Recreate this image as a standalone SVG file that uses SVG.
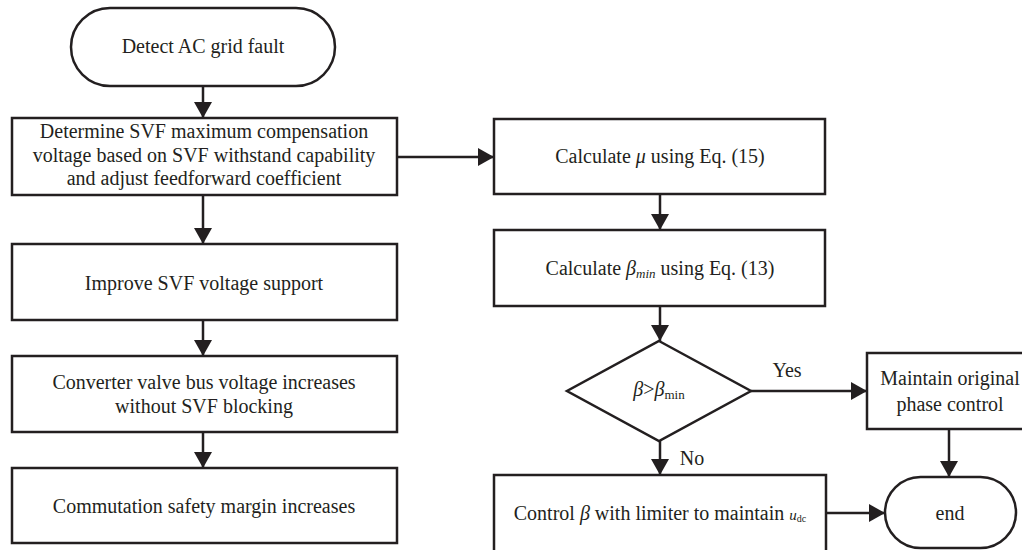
<svg xmlns="http://www.w3.org/2000/svg" width="1022" height="550" viewBox="0 0 1022 550">
<defs>
<style>
.n{fill:#fff;stroke:#231f20;stroke-width:2.5}
.t{font-family:"Liberation Serif","Times New Roman",serif;font-size:20px;fill:#231f20;text-anchor:middle}
.l{fill:none;stroke:#231f20;stroke-width:2.5}
.i{font-style:italic}
</style>
<marker id="ah" markerUnits="userSpaceOnUse" markerWidth="16" markerHeight="18" refX="16" refY="9" orient="auto" viewBox="0 0 16 18">
<path d="M0,0 L16,9 L0,18 z" fill="#231f20"/>
</marker>
</defs>
<rect width="1022" height="550" fill="#fff"/>
<g id="connectors">
<line class="l" x1="203" y1="86" x2="203" y2="118" marker-end="url(#ah)"/>
<line class="l" x1="203" y1="195" x2="203" y2="244" marker-end="url(#ah)"/>
<line class="l" x1="203" y1="320" x2="203" y2="356" marker-end="url(#ah)"/>
<line class="l" x1="203" y1="432" x2="203" y2="468" marker-end="url(#ah)"/>
<line class="l" x1="397" y1="157" x2="494" y2="157" marker-end="url(#ah)"/>
<line class="l" x1="660" y1="194" x2="660" y2="230" marker-end="url(#ah)"/>
<line class="l" x1="660" y1="306" x2="660" y2="341" marker-end="url(#ah)"/>
<line class="l" x1="751" y1="391" x2="867" y2="391" marker-end="url(#ah)"/>
<line class="l" x1="660" y1="441" x2="660" y2="475" marker-end="url(#ah)"/>
<line class="l" x1="949" y1="429" x2="949" y2="477" marker-end="url(#ah)"/>
<line class="l" x1="826" y1="513" x2="885" y2="513" marker-end="url(#ah)"/>
<text class="t" x="787" y="377">Yes</text>
<text class="t" x="692" y="465">No</text>
</g>
<g id="start">
<rect class="n" x="71" y="8" width="264" height="78" rx="39" ry="39"/>
<text class="t" x="203" y="53">Detect AC grid fault</text>
</g>
<g id="determine">
<rect class="n" x="12" y="118" width="385" height="77"/>
<text class="t" x="204" y="138">Determine SVF maximum compensation</text>
<text class="t" x="204" y="162">voltage based on SVF withstand capability</text>
<text class="t" x="204" y="185">and adjust feedforward coefficient</text>
</g>
<g id="improve">
<rect class="n" x="12" y="244" width="385" height="76"/>
<text class="t" x="204" y="290">Improve SVF voltage support</text>
</g>
<g id="converter">
<rect class="n" x="12" y="356" width="385" height="76"/>
<text class="t" x="204" y="389">Converter valve bus voltage increases</text>
<text class="t" x="204" y="413">without SVF blocking</text>
</g>
<g id="commutation">
<rect class="n" x="12" y="468" width="385" height="75"/>
<text class="t" x="204" y="513">Commutation safety margin increases</text>
</g>
<g id="calc-mu">
<rect class="n" x="494" y="119" width="331" height="75"/>
<text class="t" x="660" y="163">Calculate <tspan class="i">μ</tspan> using Eq. (15)</text>
</g>
<g id="calc-beta">
<rect class="n" x="494" y="230" width="331" height="76"/>
<text class="t" x="660" y="275">Calculate <tspan class="i">β</tspan><tspan class="i" font-size="13" dy="3">min</tspan><tspan dy="-3">  using Eq. (13)</tspan></text>
</g>
<g id="decision">
<polygon class="n" points="659,341 751,391 659,441 567,391"/>
<text class="t" x="659" y="396"><tspan class="i">β</tspan>&gt;<tspan class="i">β</tspan><tspan font-size="13" dy="3">min</tspan></text>
</g>
<g id="maintain">
<rect class="n" x="867" y="353" width="164" height="76"/>
<text class="t" x="950" y="385">Maintain original</text>
<text class="t" x="950" y="411">phase control</text>
</g>
<g id="control">
<rect class="n" x="494" y="475" width="332" height="77"/>
<text class="t" x="660" y="520">Control <tspan class="i">β</tspan> with limiter to maintain <tspan class="i" font-size="15">u</tspan><tspan font-size="10" dy="2">dc</tspan></text>
</g>
<g id="end">
<rect class="n" x="885" y="477" width="131" height="71" rx="35.5" ry="35.5"/>
<text class="t" x="950" y="520">end</text>
</g>
</svg>
